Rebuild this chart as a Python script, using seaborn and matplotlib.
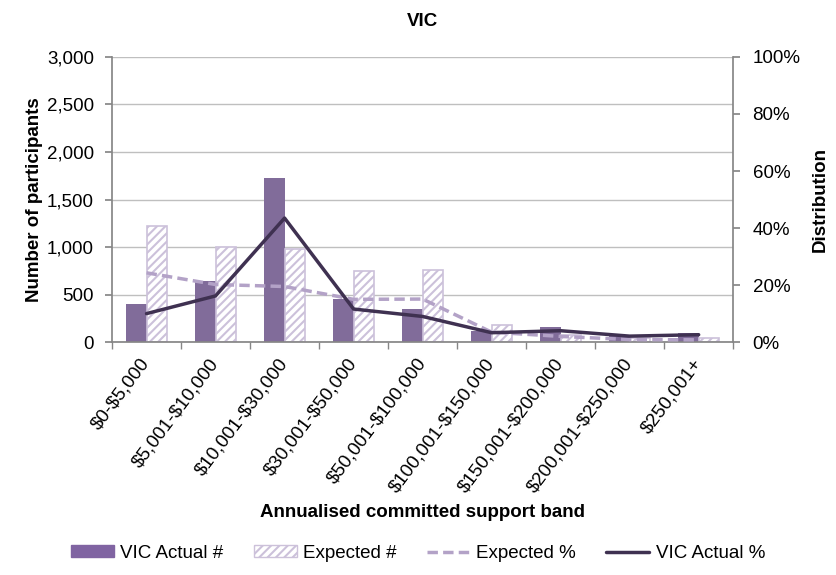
import matplotlib
matplotlib.use("Agg")
import matplotlib.pyplot as plt
import matplotlib.ticker as mticker
import matplotlib.transforms as mtrans
from matplotlib.patches import Patch
from matplotlib.lines import Line2D
import numpy as np
import pandas as pd
import seaborn as sns

# Data
bands = ["$0-$5,000", "$5,001-$10,000", "$10,001-$30,000", "$30,001-$50,000",
         "$50,001-$100,000", "$100,001-$150,000", "$150,001-$200,000",
         "$200,001-$250,000", "$250,001+"]
actual_n = [400, 640, 1730, 455, 345, 120, 155, 60, 98]
expected_n = [1220, 1000, 980, 750, 755, 178, 80, 40, 45]
actual_pct = [0.100, 0.162, 0.435, 0.116, 0.090, 0.033, 0.040, 0.021, 0.026]
expected_pct = [0.243, 0.202, 0.195, 0.150, 0.151, 0.035, 0.020, 0.009, 0.008]

c_actual = "#8064A2"
c_expected = "#CCC1DA"
c_line = "#3F3151"
c_dash = "#B3A2C7"
c_axis = "#868686"
fs = 13.5

sns.set_theme(style="white")
plt.rcParams["font.family"] = ["Liberation Sans", "DejaVu Sans"]
plt.rcParams["hatch.color"] = c_expected
plt.rcParams["hatch.linewidth"] = 1.5
plt.rcParams["text.color"] = "black"
plt.rcParams["axes.labelcolor"] = "black"

df = pd.DataFrame({
    "band": bands * 2,
    "count": actual_n + expected_n,
    "series": ["VIC Actual #"] * len(bands) + ["Expected #"] * len(bands),
})

fig = plt.figure(figsize=(8.36, 5.75), dpi=100)
ax = fig.add_axes([0.134, 0.405, 0.743, 0.496])

sns.barplot(data=df, x="band", y="count", hue="series", order=bands,
            hue_order=["VIC Actual #", "Expected #"],
            palette=[c_actual, "white"], width=0.6, gap=0, ax=ax, legend=False)

# expected bars: white with lavender hatch and edge
n = len(bands)
for i, p in enumerate(ax.patches):
    if i < n:
        p.set_linewidth(0)
    else:
        p.set_facecolor("white")
        p.set_edgecolor(c_expected)
        p.set_hatch("////")
        p.set_linewidth(1.2)

ax.set_ylim(0, 3000)
ax.set_xlim(-0.5, n - 0.5)
ax.yaxis.set_major_locator(mticker.MultipleLocator(500))
ax.yaxis.set_major_formatter(mticker.StrMethodFormatter("{x:,.0f}"))
ax.grid(axis="y", color="#BFBFBF", linewidth=1)
ax.set_axisbelow(True)
for s in ["top", "right"]:
    ax.spines[s].set_visible(False)
for s in ["left", "bottom"]:
    ax.spines[s].set_color(c_axis)
ax.set_xticks(np.arange(n + 1) - 0.5, minor=True)
ax.set_xticks(np.arange(n))
ax.set_xticklabels([b.replace("$", r"\$") for b in bands], rotation=53, ha="right",
                   va="center", rotation_mode="anchor", fontsize=fs)
shift = mtrans.ScaledTranslation(6 / 72, 0, fig.dpi_scale_trans)
for lbl in ax.get_xticklabels():
    lbl.set_transform(lbl.get_transform() + shift)
ax.tick_params(axis="x", which="major", length=0, pad=13, labelcolor="black")
ax.tick_params(axis="x", which="minor", length=5, color=c_axis, direction="out", bottom=True)
ax.tick_params(axis="y", length=5, color=c_axis, direction="out", left=True,
               labelsize=fs, labelcolor="black", pad=8)
ax.set_ylabel("Number of participants", fontsize=fs, fontweight="bold", labelpad=3)
ax.set_xlabel("Annualised committed support band", fontsize=fs, fontweight="bold", labelpad=6)
ax.set_title("VIC", fontsize=fs, fontweight="bold", pad=22)

ax2 = ax.twinx()
sns.lineplot(x=np.arange(n), y=expected_pct, color=c_dash, linewidth=2.5,
             linestyle=(0, (3, 1.5)), ax=ax2)
sns.lineplot(x=np.arange(n), y=actual_pct, color=c_line, linewidth=2.5, ax=ax2)
ax2.set_ylim(0, 1)
ax2.yaxis.set_major_locator(mticker.MultipleLocator(0.2))
ax2.yaxis.set_major_formatter(mticker.PercentFormatter(1.0, decimals=0))
for s in ["top", "left", "bottom"]:
    ax2.spines[s].set_visible(False)
ax2.spines["right"].set_color(c_axis)
ax2.tick_params(axis="y", length=5, color=c_axis, direction="out", right=True,
                labelsize=fs, labelcolor="black", pad=9)
ax2.set_ylabel("Distribution", fontsize=fs, fontweight="bold", labelpad=8)
ax2.grid(False)

handles = [
    Patch(facecolor=c_actual, edgecolor=c_actual),
    Patch(facecolor="white", edgecolor=c_expected, hatch="////"),
    Line2D([0], [0], color=c_dash, linewidth=2.5, linestyle=(0, (3, 1.5))),
    Line2D([0], [0], color=c_line, linewidth=2.5),
]
labels = ["VIC Actual #", "Expected #", "Expected %", "VIC Actual %"]
fig.legend(handles, labels, loc="center", bbox_to_anchor=(0.5, 0.038), ncol=4,
           frameon=False, fontsize=fs, handlelength=2.3, handleheight=0.55,
           columnspacing=1.6, handletextpad=0.35)

fig.savefig("out.png", dpi=100)
